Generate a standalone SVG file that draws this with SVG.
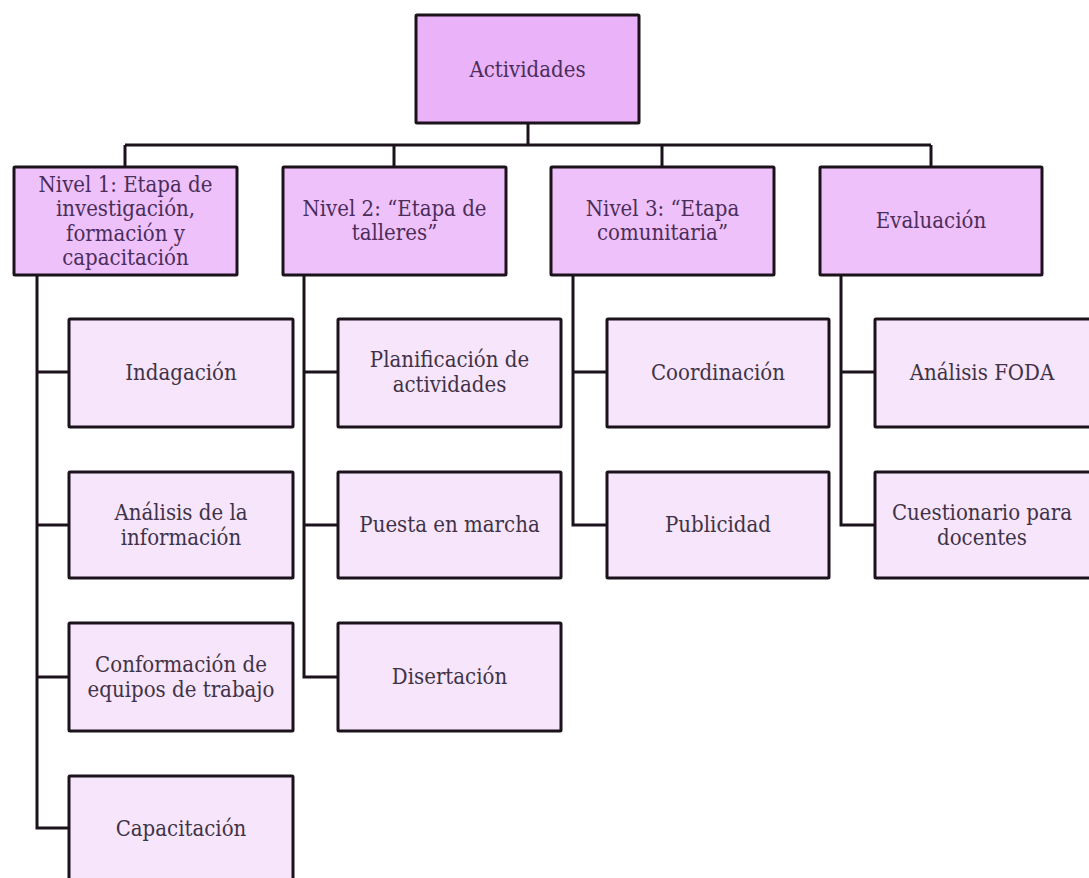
<svg xmlns="http://www.w3.org/2000/svg" width="1089" height="878" viewBox="0 0 1089 878">
<style>
.box{stroke:#1c121c;stroke-width:3;}
.top{fill:#eab2f8;}
.lvl{fill:#efc1fb;}
.kid{fill:#f7e5fb;}
.lt{font-family:'DejaVu Serif Condensed','DejaVu Serif','Liberation Serif',serif;font-stretch:condensed;font-size:22px;fill:#4b2d5a;text-anchor:middle;}
.kt{font-family:'DejaVu Serif Condensed','DejaVu Serif','Liberation Serif',serif;font-stretch:condensed;font-size:22px;fill:#3f3347;text-anchor:middle;}
.con{fill:none;stroke:#1c121c;stroke-width:3;stroke-linejoin:miter;}
</style>
<rect width="1089" height="878" fill="#ffffff"/>
<g id="connectors" class="con">
<path d="M528 123V145M125 145H931M125 145V167M394 145V167M662 145V167M931 145V167"/>
<path d="M37 275V828H69M37 372H69M37 525H69M37 677H69"/>
<path d="M304 274V677H338M304 372H338M304 525H338"/>
<path d="M573 274V525H607M573 372H607"/>
<path d="M841 274V525H875M841 372H875"/>
</g>
<g id="n-actividades"><rect class="box top" x="416" y="15" width="223" height="108" rx="1"/><text class="lt" x="527.5" y="77">Actividades</text></g>
<g id="n-nivel1"><rect class="box lvl" x="14" y="167" width="223" height="108" rx="1"/><text class="lt"><tspan x="125.5" y="192">Nivel 1: Etapa de</tspan><tspan x="125.5" y="216">investigación,</tspan><tspan x="125.5" y="240.5">formación y</tspan><tspan x="125.5" y="265">capacitación</tspan></text></g>
<g id="n-nivel2"><rect class="box lvl" x="283" y="167" width="223" height="108" rx="1"/><text class="lt"><tspan x="394.5" y="216">Nivel 2: “Etapa de</tspan><tspan x="394.5" y="240">talleres”</tspan></text></g>
<g id="n-nivel3"><rect class="box lvl" x="551" y="167" width="223" height="108" rx="1"/><text class="lt"><tspan x="662.5" y="216">Nivel 3: “Etapa</tspan><tspan x="662.5" y="240">comunitaria”</tspan></text></g>
<g id="n-evaluacion"><rect class="box lvl" x="820" y="167" width="222" height="108" rx="1"/><text class="lt" x="931" y="228">Evaluación</text></g>
<g id="n-indagacion"><rect class="box kid" x="69" y="319" width="224" height="108" rx="1"/><text class="kt" x="181" y="380">Indagación</text></g>
<g id="n-analisis"><rect class="box kid" x="69" y="472" width="224" height="106" rx="1"/><text class="kt"><tspan x="181" y="520">Análisis de la</tspan><tspan x="181" y="545">información</tspan></text></g>
<g id="n-conformacion"><rect class="box kid" x="69" y="623" width="224" height="108" rx="1"/><text class="kt"><tspan x="181" y="672">Conformación de</tspan><tspan x="181" y="696.5">equipos de trabajo</tspan></text></g>
<g id="n-capacitacion"><rect class="box kid" x="69" y="776" width="224" height="108" rx="1"/><text class="kt" x="181" y="836">Capacitación</text></g>
<g id="n-planificacion"><rect class="box kid" x="338" y="319" width="223" height="108" rx="1"/><text class="kt"><tspan x="449.5" y="367">Planificación de</tspan><tspan x="449.5" y="391.5">actividades</tspan></text></g>
<g id="n-puesta"><rect class="box kid" x="338" y="472" width="223" height="106" rx="1"/><text class="kt" x="449.5" y="532">Puesta en marcha</text></g>
<g id="n-disertacion"><rect class="box kid" x="338" y="623" width="223" height="108" rx="1"/><text class="kt" x="449.5" y="684">Disertación</text></g>
<g id="n-coordinacion"><rect class="box kid" x="607" y="319" width="222" height="108" rx="1"/><text class="kt" x="718" y="380">Coordinación</text></g>
<g id="n-publicidad"><rect class="box kid" x="607" y="472" width="222" height="106" rx="1"/><text class="kt" x="718" y="532">Publicidad</text></g>
<g id="n-foda"><rect class="box kid" x="875" y="319" width="224" height="108" rx="1"/><text class="kt" x="982" y="380">Análisis FODA</text></g>
<g id="n-cuestionario"><rect class="box kid" x="875" y="472" width="224" height="106" rx="1"/><text class="kt"><tspan x="982" y="520">Cuestionario para</tspan><tspan x="982" y="545">docentes</tspan></text></g>
</svg>
